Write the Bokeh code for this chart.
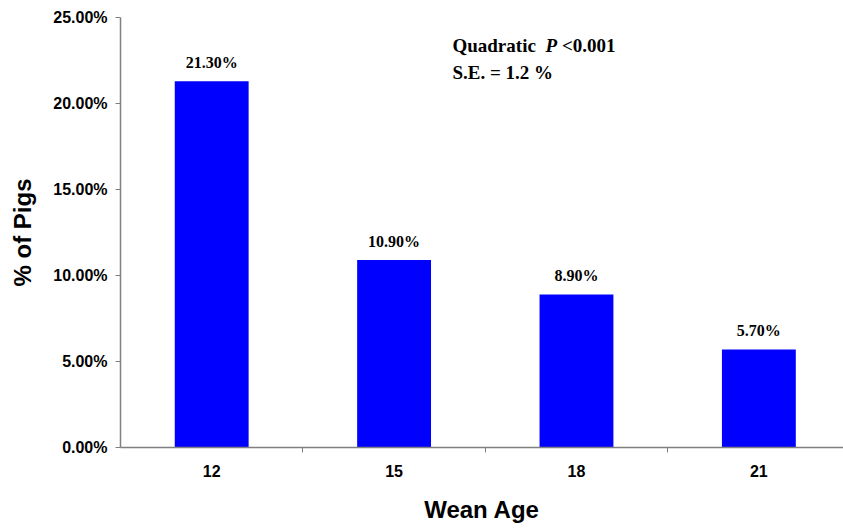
from bokeh.plotting import figure
from bokeh.models import Range1d, FixedTicker, Label, ColumnDataSource
from bokeh.embed import file_html
from bokeh.resources import INLINE
from bokeh.core.properties import value

categories = ["12", "15", "18", "21"]
values = [21.30, 10.90, 8.90, 5.70]
value_labels = ["21.30%", "10.90%", "8.90%", "5.70%"]
y_ticks = [0, 5, 10, 15, 20, 25]
y_tick_labels = ["0.00%", "5.00%", "10.00%", "15.00%", "20.00%", "25.00%"]

xs = [i + 0.5 for i in range(len(categories))]
src = ColumnDataSource(dict(x=xs, top=values, lab=value_labels))

p = figure(width=843, height=529, output_backend="svg", toolbar_location=None,
           x_range=Range1d(0, 3.964), y_range=Range1d(0, 25),
           min_border_left=120, min_border_right=0, min_border_top=17, min_border_bottom=82)
p.outline_line_color = None
p.grid.grid_line_color = None
p.background_fill_color = "white"

p.vbar(x="x", top="top", width=0.405, bottom=0, source=src, fill_color="#0000FF", line_color=None)
p.text(x="x", y="top", text="lab", source=src, text_align="center", text_baseline="bottom",
       y_offset=-10, text_font=value("Liberation Serif"), text_font_style="bold",
       text_font_size="16px", text_color="black")

# x axis
xa = p.xaxis[0]
xa.ticker = FixedTicker(ticks=xs, minor_ticks=[1, 2, 3])
xa.major_label_overrides = {x: c for x, c in zip(xs, categories)}
xa.major_tick_line_color = None
xa.major_tick_out = 0
xa.major_tick_in = 0
xa.minor_tick_out = 5
xa.minor_tick_in = 0
xa.minor_tick_line_color = "#808080"
xa.axis_line_color = "#808080"
xa.axis_line_width = 1.5
xa.major_label_standoff = 12
xa.major_label_text_font = "Liberation Sans"
xa.major_label_text_font_style = "bold"
xa.major_label_text_font_size = "16px"
xa.major_label_text_color = "black"
xa.axis_label = "Wean Age"
xa.axis_label_text_font = "Liberation Sans"
xa.axis_label_text_font_style = "bold"
xa.axis_label_text_font_size = "24px"
xa.axis_label_standoff = 16
xa.axis_label_text_color = "black"

# y axis
ya = p.yaxis[0]
ya.ticker = FixedTicker(ticks=y_ticks, minor_ticks=[])
ya.major_label_overrides = {t: l for t, l in zip(y_ticks, y_tick_labels)}
ya.major_tick_out = 5
ya.major_tick_in = 0
ya.major_tick_line_color = "#808080"
ya.axis_line_color = "#808080"
ya.axis_line_width = 1.5
ya.major_label_standoff = 8
ya.major_label_text_font = "Liberation Sans"
ya.major_label_text_font_style = "bold"
ya.major_label_text_font_size = "16px"
ya.major_label_text_color = "black"
ya.axis_label = "% of Pigs"
ya.axis_label_text_font = "Liberation Sans"
ya.axis_label_text_font_style = "bold"
ya.axis_label_text_font_size = "24px"
ya.axis_label_standoff = 14
ya.axis_label_text_color = "black"

common = dict(text_font="Liberation Serif", text_font_size="19px", text_color="black",
              text_baseline="middle", text_align="left")
p.add_layout(Label(x=1.82, y=23.37, text="Quadratic", text_font_style="bold", **common))
p.add_layout(Label(x=2.33, y=23.37, text="P", text_font_style="bold italic", **common))
p.add_layout(Label(x=2.42, y=23.37, text="<0.001", text_font_style="bold", **common))
p.add_layout(Label(x=1.82, y=21.80, text="S.E. = 1.2 %", text_font_style="bold", **common))

open("out.html", "w").write(file_html(p, INLINE))
